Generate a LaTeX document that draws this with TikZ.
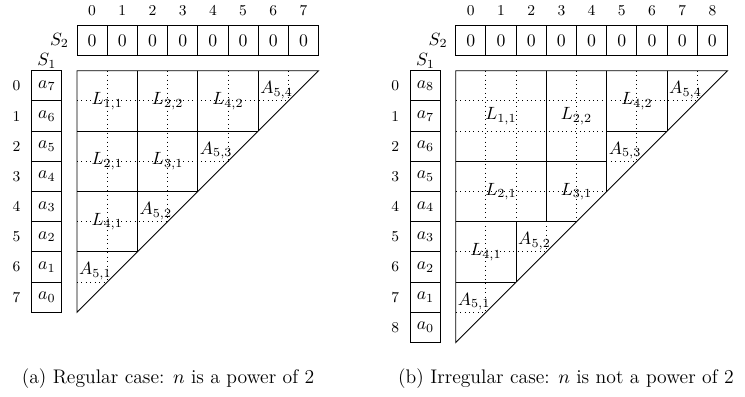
\documentclass[tikz,border=0pt]{standalone}
\begin{document}
\tikzset{
  px/.style={x=0.5643pt,y=-0.5643pt},
  cellunit/.style={x=17.04pt,y=-17.04pt},
  cellbox/.style={draw, line width=0.5pt, minimum width=17.04pt, minimum height=17.04pt, inner sep=0pt},
  idx/.style={font=\fontsize{8.5}{10}\selectfont, inner sep=0pt},
  blk/.style={line width=0.5pt},
  grd/.style={dotted, line width=0.5pt},
  lbl/.style={inner sep=0pt},
  alb/.style={anchor=south west, inner sep=1pt},
  slab/.style={inner sep=1pt},
  captext/.style={font=\fontsize{11.1}{13}\selectfont, inner sep=0pt, anchor=base}
}
\begin{tikzpicture}[px]
\useasboundingbox (0,0) rectangle (745,396);
% ---------------- (a) ----------------
\begin{scope}[shift={(77,70.7)},cellunit]
  \foreach \i in {0,...,7} {
    \node[idx] (ta\i) at (\i+0.5,-2) {\i};
    \node[cellbox] (sa\i) at (\i+0.5,-1) {0};
  }
  \foreach \j [evaluate=\j as \k using int(7-\j)] in {0,...,7} {
    \node[idx] (ra\j) at (-2,\j+0.5) {\j};
    \node[cellbox] (ua\j) at (-1,\j+0.5) {$a_{\k}$};
  }
  \node[slab, anchor=east] (aS2) at (-0.2,-1) {$S_2$};
  \node[slab, anchor=south] (aS1) at (-1,0) {$S_1$};
  % dotted unit grid
  \foreach \k in {1,...,7} {
    \draw[grd] (\k,0) -- (\k,8-\k);
    \draw[grd] (0,\k) -- (8-\k,\k);
  }
  % outline
  \draw[blk] (0,8) -- (0,0) -- (8,0) -- cycle;
  % block borders
  \draw[blk] (0,2) -- (6,2) (0,4) -- (4,4) (0,6) -- (2,6);
  \draw[blk] (2,0) -- (2,6) (4,0) -- (4,4) (6,0) -- (6,2);
  % labels
  \node[lbl] (aL11) at (1,1) {$L_{1,1}$};
  \node[lbl] (aL22) at (3,1) {$L_{2,2}$};
  \node[lbl] (aL42) at (5,1) {$L_{4,2}$};
  \node[lbl] (aL21) at (1,3) {$L_{2,1}$};
  \node[lbl] (aL31) at (3,3) {$L_{3,1}$};
  \node[lbl] (aL41) at (1,5) {$L_{4,1}$};
  \node[alb] (aA54) at (6,1) {$A_{5,4}$};
  \node[alb] (aA53) at (4,3) {$A_{5,3}$};
  \node[alb] (aA52) at (2,5) {$A_{5,2}$};
  \node[alb] (aA51) at (0,7) {$A_{5,1}$};
\end{scope}
% ---------------- (b) ----------------
\begin{scope}[shift={(455.7,70.7)},cellunit]
  \foreach \i in {0,...,8} {
    \node[idx] (tb\i) at (\i+0.5,-2) {\i};
    \node[cellbox] (sb\i) at (\i+0.5,-1) {0};
  }
  \foreach \j [evaluate=\j as \k using int(8-\j)] in {0,...,8} {
    \node[idx] (rb\j) at (-2,\j+0.5) {\j};
    \node[cellbox] (ub\j) at (-1,\j+0.5) {$a_{\k}$};
  }
  \node[slab, anchor=east] (bS2) at (-0.2,-1) {$S_2$};
  \node[slab, anchor=south] (bS1) at (-1,0) {$S_1$};
  \foreach \k in {1,...,8} {
    \draw[grd] (\k,0) -- (\k,9-\k);
    \draw[grd] (0,\k) -- (9-\k,\k);
  }
  \draw[blk] (0,9) -- (0,0) -- (9,0) -- cycle;
  \draw[blk] (3,0) -- (3,5) (5,0) -- (5,4) (7,0) -- (7,2) (2,5) -- (2,7);
  \draw[blk] (0,3) -- (5,3) (5,2) -- (7,2) (0,5) -- (4,5) (0,7) -- (2,7);
  \node[lbl] (bL11) at (1.5,1.5) {$L_{1,1}$};
  \node[lbl] (bL22) at (4,1.5) {$L_{2,2}$};
  \node[lbl] (bL42) at (6,1) {$L_{4,2}$};
  \node[lbl] (bL21) at (1.5,4) {$L_{2,1}$};
  \node[lbl] (bL31) at (4,4) {$L_{3,1}$};
  \node[lbl] (bL41) at (1,6) {$L_{4,1}$};
  \node[alb] (bA54) at (7,1) {$A_{5,4}$};
  \node[alb] (bA53) at (5,3) {$A_{5,3}$};
  \node[alb] (bA52) at (2,6) {$A_{5,2}$};
  \node[alb] (bA51) at (0,8) {$A_{5,1}$};
\end{scope}
% captions
\node[captext] (capa) at (168,383) {(a) Regular case: $n$ is a power of 2};
\node[captext] (capb) at (566,383) {(b) Irregular case: $n$ is not a power of 2};
\end{tikzpicture}
\end{document}
